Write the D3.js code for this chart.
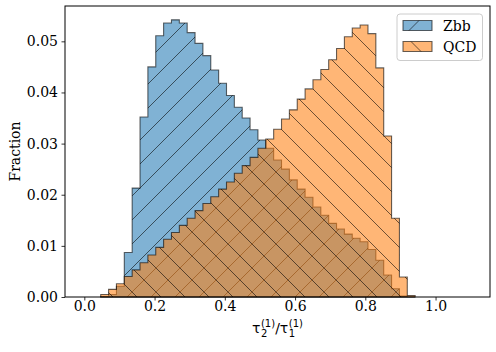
<!DOCTYPE html>
<html>
<head>
<meta charset="utf-8">
<script src="https://cdn.jsdelivr.net/npm/d3@7/dist/d3.min.js"></script>
<style>
  body { margin: 0; background: #fff; }
  svg { display: block; }
</style>
</head>
<body>
<div id="chart"></div>
<script>
// histogram binning (shared by both samples)
var binLo = 0.0467;
var binHi = 0.9419;
var binCount = 40;

// fraction of events per bin
var zbbValues = [0.0001, 0.0005, 0.0021, 0.0087, 0.0213, 0.0352, 0.0450, 0.0511, 0.0536, 0.0542,
                 0.0536, 0.0517, 0.0496, 0.0472, 0.0444, 0.0418, 0.0394, 0.0371, 0.0350, 0.0327,
                 0.0307, 0.0291, 0.0268, 0.0250, 0.0229, 0.0211, 0.0195, 0.0176, 0.0160, 0.0144,
                 0.0133, 0.0123, 0.0115, 0.0108, 0.0093, 0.0072, 0.0043, 0.0016, 0.0002, 0.0000];
var qcdValues = [0.0005, 0.0015, 0.0026, 0.0040, 0.0053, 0.0067, 0.0082, 0.0097, 0.0113, 0.0126,
                 0.0140, 0.0154, 0.0169, 0.0183, 0.0196, 0.0211, 0.0225, 0.0242, 0.0257, 0.0273,
                 0.0291, 0.0309, 0.0328, 0.0348, 0.0366, 0.0387, 0.0407, 0.0425, 0.0445, 0.0464,
                 0.0486, 0.0509, 0.0526, 0.0532, 0.0515, 0.0448, 0.0315, 0.0154, 0.0039, 0.0003];

var seriesNames = ["Zbb", "QCD"];
var xTicks = [0.0, 0.2, 0.4, 0.6, 0.8, 1.0];
var yTicks = [0.00, 0.01, 0.02, 0.03, 0.04, 0.05];
var xDomain = [-0.055, 1.155];

var width = 496, height = 352;
var plot = {left: 65, right: 490, top: 6, bottom: 297};
var alpha = 0.57;
var serif = "'DejaVu Serif', serif";

var svg = d3.select("#chart").append("svg")
    .attr("width", width)
    .attr("height", height);

var x = d3.scaleLinear().domain(xDomain).range([plot.left, plot.right]);
var yMax = d3.max(zbbValues.concat(qcdValues)) * 1.05;
var y = d3.scaleLinear().domain([0, yMax]).range([plot.bottom, plot.top]);

var edges = d3.range(binCount + 1).map(function (i) {
    return binLo + i * (binHi - binLo) / binCount;
});

// hatch patterns, aligned like matplotlib (origin at figure bottom-left)
var defs = svg.append("defs");
defs.append("pattern")
    .attr("id", "hatch-ne")
    .attr("patternUnits", "userSpaceOnUse")
    .attr("width", 24).attr("height", 24)
    .attr("y", -8)
    .append("path")
    .attr("d", "M-6,6L6,-6M0,24L24,0M18,30L30,18")
    .attr("stroke", "#000").attr("stroke-opacity", alpha)
    .attr("stroke-width", 1).attr("fill", "none");
defs.append("pattern")
    .attr("id", "hatch-se")
    .attr("patternUnits", "userSpaceOnUse")
    .attr("width", 24).attr("height", 24)
    .attr("y", 16)
    .append("path")
    .attr("d", "M-6,18L6,30M0,0L24,24M18,-6L30,6")
    .attr("stroke", "#000").attr("stroke-opacity", alpha)
    .attr("stroke-width", 1).attr("fill", "none");

var series = [
    {name: seriesNames[0], values: zbbValues, color: "#1f77b4", hatch: "hatch-ne"},
    {name: seriesNames[1], values: qcdValues, color: "#ff7f0e", hatch: "hatch-se"}
];

// step outline for a stepfilled histogram
function stepPoints(values) {
    var pts = [[edges[0], 0]];
    values.forEach(function (v, i) {
        pts.push([edges[i], v]);
        pts.push([edges[i + 1], v]);
    });
    pts.push([edges[binCount], 0]);
    return pts;
}

var line = d3.line()
    .x(function (d) { return x(d[0]); })
    .y(function (d) { return y(d[1]); });

var plotArea = svg.append("g");

series.forEach(function (s) {
    var d = line(stepPoints(s.values)) + "Z";
    var g = plotArea.append("g").attr("class", "hist");
    g.append("path").attr("d", d)
        .attr("fill", s.color).attr("fill-opacity", alpha);
    g.append("path").attr("d", d)
        .attr("fill", "url(#" + s.hatch + ")");
    g.append("path").attr("d", d)
        .attr("fill", "none")
        .attr("stroke", "#000").attr("stroke-opacity", alpha + 0.03)
        .attr("stroke-width", 1.1)
        .attr("stroke-linejoin", "miter");
});

// axes
var xAxis = svg.append("g")
    .attr("transform", "translate(0," + plot.bottom + ")")
    .call(d3.axisBottom(x).tickValues(xTicks).tickFormat(d3.format(".1f"))
        .tickSize(3.5).tickSizeOuter(0).tickPadding(3.5));
var yAxis = svg.append("g")
    .attr("transform", "translate(" + plot.left + ",0)")
    .call(d3.axisLeft(y).tickValues(yTicks).tickFormat(d3.format(".2f"))
        .tickSize(3.5).tickSizeOuter(0).tickPadding(3.5));

[xAxis, yAxis].forEach(function (a) {
    a.select(".domain").remove();
    a.selectAll(".tick line").attr("stroke", "#000").attr("stroke-width", 0.8);
    a.selectAll(".tick text")
        .style("font-family", serif)
        .style("font-size", "14px")
        .attr("fill", "#000");
});
xAxis.selectAll(".tick text").attr("dy", "0.5em");

// spines
svg.append("rect")
    .attr("x", plot.left).attr("y", plot.top)
    .attr("width", plot.right - plot.left)
    .attr("height", plot.bottom - plot.top)
    .attr("fill", "none")
    .attr("stroke", "#000")
    .attr("stroke-width", 1);

// y label
svg.append("text")
    .attr("transform", "translate(20," + ((plot.top + plot.bottom) / 2) + ") rotate(-90)")
    .attr("text-anchor", "middle")
    .style("font-family", serif)
    .style("font-size", "14px")
    .text("Fraction");

// x label: tau_2^(1) / tau_1^(1), scripts stacked like mathtext
var xl = svg.append("g");
var cursor = 0;
function addText(str, size, dx, dy) {
    var t = xl.append("text")
        .attr("x", cursor + dx).attr("y", dy)
        .style("font-family", "'DejaVu Sans', sans-serif")
        .style("font-size", size + "px")
        .text(str);
    return t.node().getComputedTextLength();
}
function addScripted(base, sub, sup) {
    var w = addText(base, 14, 0, 0);
    cursor += w + 0.5;
    var w1 = addText(sup, 10, 0, -6);
    var w2 = addText(sub, 10, 0, 4);
    cursor += Math.max(w1, w2);
}
addScripted("τ", "2", "(1)");
cursor += addText("/", 14, 0, 0);
addScripted("τ", "1", "(1)");
xl.attr("transform", "translate(" + ((plot.left + plot.right) / 2 - cursor / 2) + ",333)");

// legend
var legend = svg.append("g").attr("transform", "translate(397,14)");
legend.append("rect")
    .attr("width", 85.5).attr("height", 46.5)
    .attr("rx", 3)
    .attr("fill", "#fff").attr("fill-opacity", 0.8)
    .attr("stroke", "#cccccc");
series.forEach(function (s, i) {
    var row = legend.append("g").attr("transform", "translate(6," + (6.5 + i * 21) + ")");
    var patch = "M0,0H29V10H0Z";
    row.append("path").attr("d", patch).attr("fill", s.color).attr("fill-opacity", alpha);
    row.append("path").attr("d", patch).attr("fill", "url(#" + s.hatch + ")");
    row.append("path").attr("d", patch).attr("fill", "none")
        .attr("stroke", "#000").attr("stroke-opacity", alpha + 0.03).attr("stroke-width", 1.1);
    row.append("text")
        .attr("x", 40).attr("y", 10)
        .style("font-family", serif)
        .style("font-size", "14px")
        .text(s.name);
});
</script>
</body>
</html>
